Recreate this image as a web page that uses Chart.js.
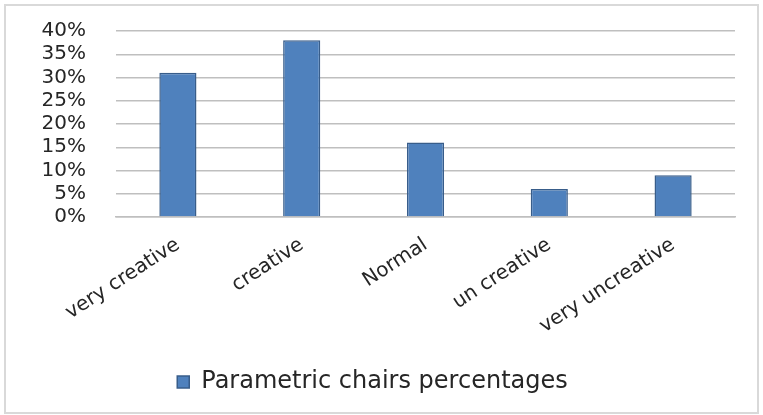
<!DOCTYPE html>
<html>
<head>
<meta charset="utf-8">
<script src="https://cdn.jsdelivr.net/npm/chart.js@4"></script>
<style>
  html, body { margin: 0; padding: 0; background: #fff; }
  #wrap { position: relative; width: 763px; height: 415px; }
  #frame {
    position: absolute; left: 4px; top: 4px; width: 751px; height: 406px;
    border: 2px solid #d9d9d9; pointer-events: none;
  }
</style>
</head>
<body>
<div id="wrap">
  <canvas id="chart" width="763" height="415"></canvas>
  <div id="frame"></div>
</div>
<script>
// Categories and values
const categories = ["very creative", "creative", "Normal", "un creative", "very uncreative"];
const percentages = [31, 38, 16, 6, 9];
const seriesName = "Parametric chairs percentages";
const yTicks = [0, 5, 10, 15, 20, 25, 30, 35, 40];

const textColor = "#262626";
const gridColor = "#bfbfbf";

new Chart(document.getElementById("chart"), {
    type: "bar",
    data: {
        labels: categories,
        datasets: [{
            label: seriesName,
            data: percentages,
            backgroundColor: "#4f81bd",
            borderColor: "#385d8a",
            borderWidth: 1.5,
            barPercentage: 0.3,
            categoryPercentage: 1
        }]
    },
    options: {
        responsive: false,
        animation: false,
        layout: {
            padding: { left: 10, right: 28, top: 31, bottom: 11 }
        },
        plugins: {
            tooltip: { enabled: false },
            legend: {
                position: "bottom",
                labels: {
                    color: textColor,
                    font: { family: "DejaVu Sans", size: 24 },
                    boxWidth: 12,
                    boxHeight: 12,
                    padding: 8
                }
            }
        },
        scales: {
            x: {
                grid: { display: false },
                border: { display: true, color: gridColor, width: 1.5 },
                ticks: {
                    color: textColor,
                    font: { family: "DejaVu Sans", size: 20 },
                    minRotation: 33,
                    maxRotation: 33,
                    padding: 8
                },
                afterFit: function (scale) {
                    scale.height = 145;
                    scale.paddingLeft = 0;
                    scale.paddingRight = 0;
                }
            },
            y: {
                min: 0,
                max: 40,
                afterBuildTicks: function (scale) {
                    scale.ticks = yTicks.map(v => ({ value: v }));
                },
                grid: { color: gridColor, lineWidth: 1.5, drawTicks: false },
                border: { display: false },
                ticks: {
                    color: textColor,
                    font: { family: "DejaVu Sans", size: 20, lineHeight: 1 },
                    autoSkip: false,
                    padding: 30,
                    callback: v => v + "%"
                },
                afterFit: function (scale) {
                    scale.width = 106;
                    scale.paddingTop = 0;
                    scale.paddingBottom = 0;
                }
            }
        }
    }
});
</script>
</body>
</html>
